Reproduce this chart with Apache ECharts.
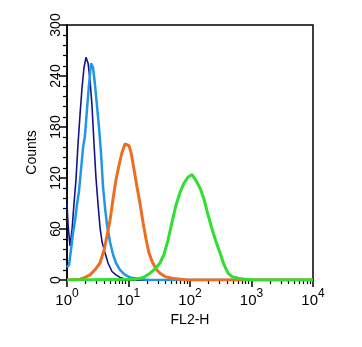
<!DOCTYPE html>
<html>
<head>
<meta charset="utf-8">
<script src="https://cdn.jsdelivr.net/npm/echarts@6/dist/echarts.min.js"></script>
<style>
  html, body { margin: 0; padding: 0; background: #fff; }
  #main { width: 362px; height: 347px; }
</style>
</head>
<body>
<div id="main"></div>
<script>
// FL2-H channel values (x) and counts (y)
var navyX = [1.00, 1.04, 1.12, 1.21, 1.30, 1.40, 1.51, 1.63, 1.75, 1.89, 2.04, 2.20, 2.37, 2.55, 2.75, 2.96, 3.19, 3.44, 3.71, 4.15, 4.64, 5.39, 6.26, 7.27, 9.10, 11.4, 10000];
var navyY = [90, 65, 40, 60, 90, 118, 160, 195, 225, 250, 262, 255, 235, 205, 160, 120, 90, 62, 45, 32, 20, 10, 6, 3, 1, 0, 0];

var blueX = [1.00, 1.08, 1.16, 1.25, 1.35, 1.45, 1.57, 1.69, 1.82, 1.96, 2.11, 2.28, 2.46, 2.65, 2.85, 3.07, 3.31, 3.57, 3.85, 4.15, 4.47, 5.00, 5.60, 6.26, 7.27, 8.77, 10.6, 15.4, 22.4, 10000];
var blueY = [15, 18, 35, 55, 70, 88, 105, 130, 155, 170, 200, 230, 255, 250, 230, 205, 180, 150, 110, 85, 65, 45, 30, 20, 12, 6, 3, 1, 0, 0];

var orangeX = [1.00, 1.63, 1.96, 2.37, 2.85, 3.44, 4.00, 4.47, 5.00, 5.60, 6.26, 7.01, 7.84, 8.77, 9.45, 10.2, 11.0, 12.3, 13.7, 15.4, 17.2, 19.3, 21.5, 24.1, 28.0, 32.5, 39.2, 51.0, 68.8, 92.8, 10000];
var orangeY = [0, 1, 3, 6, 12, 20, 35, 52, 70, 95, 118, 135, 150, 160, 161, 158, 150, 130, 110, 90, 68, 48, 32, 22, 13, 8, 4, 2, 1, 0, 0];

var greenX = [1.00, 12.8, 15.4, 18.5, 22.4, 27.0, 32.5, 37.8, 43.9, 51.0, 59.2, 68.8, 79.9, 92.8, 108, 125, 146, 169, 196, 228, 265, 307, 357, 415, 482, 603, 783, 1140, 10000];
var greenY = [0, 1, 2, 4, 8, 13, 20, 30, 47, 68, 88, 103, 114, 121, 124, 117, 108, 95, 77, 60, 45, 32, 18, 8, 4, 2, 1, 0, 0];

var minorTicksX = [2, 3, 4, 5, 6, 7, 8, 9, 20, 30, 40, 50, 60, 70, 80, 90, 200, 300, 400, 500, 600, 700, 800, 900, 2000, 3000, 4000, 5000, 6000, 7000, 8000, 9000];

function pairs(xs, ys) {
    var out = [];
    for (var i = 0; i < xs.length; i++) {
        out.push([xs[i], ys[i]]);
    }
    return out;
}

var font = 'Liberation Sans';
var myChart = echarts.init(document.getElementById('main'));

var option = {
    animation: false,
    backgroundColor: '#fff',
    grid: {
        left: 67, top: 25, right: 49, bottom: 67,
        show: true, borderColor: '#000', borderWidth: 1.5
    },
    xAxis: [{
        type: 'log',
        logBase: 10,
        min: 1,
        max: 10000,
        name: 'FL2-H',
        nameLocation: 'middle',
        nameGap: 29,
        nameTextStyle: { fontFamily: font, fontSize: 14, color: '#000' },
        axisLine: { lineStyle: { color: '#000', width: 1.5 } },
        axisTick: { length: 7, lineStyle: { color: '#000', width: 1.5 } },
        splitLine: { show: false },
        axisLabel: {
            margin: 8,
            color: '#000',
            formatter: function (v) {
                return '{b|10}{s|' + Math.round(Math.log10(v)) + '}';
            },
            rich: {
                b: { fontFamily: font, fontSize: 15, color: '#000', verticalAlign: 'bottom' },
                s: { fontFamily: font, fontSize: 12, color: '#000', verticalAlign: 'bottom', padding: [0, 0, 8, 0] }
            }
        }
    }, {
        type: 'log',
        logBase: 10,
        min: 1,
        max: 10000,
        position: 'bottom',
        axisLine: { show: false },
        axisLabel: { show: false },
        splitLine: { show: false },
        axisTick: { length: 4, customValues: minorTicksX, lineStyle: { color: '#000', width: 1.2 } }
    }],
    yAxis: {
        type: 'value',
        min: 0,
        max: 300,
        interval: 60,
        name: 'Counts',
        nameLocation: 'middle',
        nameGap: 28,
        nameTextStyle: { fontFamily: font, fontSize: 14, color: '#000' },
        axisLine: { show: true, lineStyle: { color: '#000', width: 1.5 } },
        axisTick: { show: true, length: 8, lineStyle: { color: '#000', width: 1.5 } },
        minorTick: { show: true, splitNumber: 5, length: 4, lineStyle: { color: '#000', width: 1.2 } },
        splitLine: { show: false },
        axisLabel: { rotate: 90, margin: 4, fontFamily: font, fontSize: 14, color: '#000' }
    },
    series: [
        { type: 'line', symbol: 'none', data: pairs(navyX, navyY),
          lineStyle: { color: '#12128a', width: 1.6 } },
        { type: 'line', symbol: 'none', data: pairs(blueX, blueY),
          lineStyle: { color: '#2196e6', width: 2.5 } },
        { type: 'line', symbol: 'none', data: pairs(orangeX, orangeY),
          lineStyle: { color: '#ec6e22', width: 3 } },
        { type: 'line', symbol: 'none', data: pairs(greenX, greenY),
          lineStyle: { color: '#30e030', width: 3 } }
    ]
};

myChart.setOption(option);
</script>
</body>
</html>
